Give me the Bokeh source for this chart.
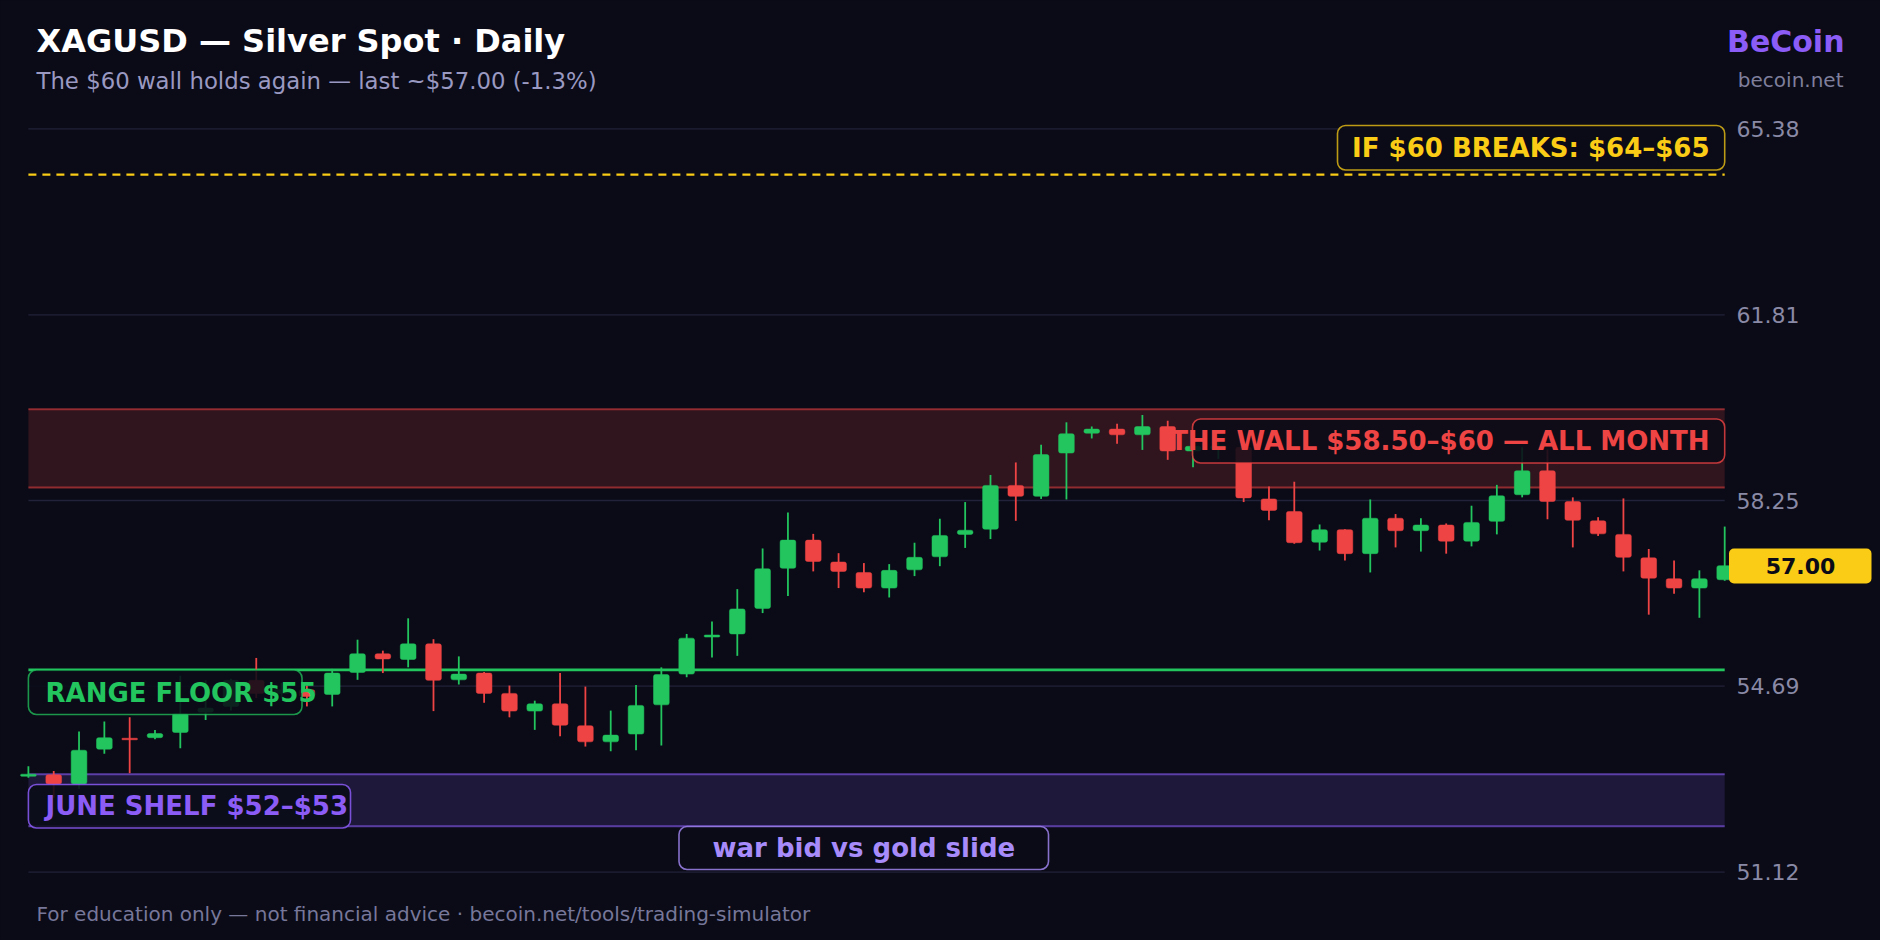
from bokeh.plotting import figure
from bokeh.models import Label, BoxAnnotation, Range1d, ColumnDataSource
from bokeh.embed import file_html
from bokeh.resources import INLINE
from bokeh.core.properties import value

# ---------------- data ----------------
opens  = [52.96, 52.99, 52.81, 53.48, 53.69, 53.70, 53.80, 54.19, 54.30, 54.80,
          54.55, 54.62, 54.53, 54.95, 55.31, 55.20, 55.50, 54.81, 54.94, 54.55,
          54.21, 54.35, 53.93, 53.62, 53.77, 54.33, 54.92, 55.63, 55.69, 56.18,
          56.95, 57.49, 57.07, 56.87, 56.57, 56.92, 57.17, 57.60, 57.70, 58.54,
          58.33, 59.16, 59.54, 59.62, 59.51, 59.67, 59.20, 59.24, 59.27, 58.28,
          58.04, 57.45, 57.69, 57.23, 57.91, 57.67, 57.78, 57.47, 57.85, 58.36,
          58.82, 58.23, 57.86, 57.60, 57.15, 56.75, 56.57, 56.73]
highs  = [53.15, 53.06, 53.82, 54.01, 54.09, 53.85, 54.89, 54.80, 54.83, 55.23,
          54.75, 54.70, 55.02, 55.58, 55.37, 55.99, 55.59, 55.26, 54.96, 54.70,
          54.41, 54.94, 54.68, 54.22, 54.71, 55.05, 55.69, 55.93, 56.55, 57.33,
          58.02, 57.61, 57.24, 57.05, 57.03, 57.44, 57.90, 58.22, 58.74, 58.98,
          59.32, 59.75, 59.67, 59.72, 59.89, 59.78, 59.40, 59.40, 59.35, 58.52,
          58.61, 57.79, 57.70, 58.27, 57.99, 57.91, 57.81, 58.15, 58.55, 59.27,
          59.23, 58.31, 57.93, 58.29, 57.32, 57.10, 56.91, 57.75]
lows   = [52.93, 52.55, 52.72, 53.39, 53.02, 53.67, 53.50, 54.04, 54.22, 54.46,
          54.45, 54.30, 54.30, 54.81, 54.94, 55.05, 54.21, 54.72, 54.37, 54.09,
          53.85, 53.73, 53.53, 53.44, 53.46, 53.55, 54.86, 55.24, 55.27, 56.09,
          56.42, 56.89, 56.57, 56.49, 56.39, 56.80, 56.99, 57.34, 57.51, 57.86,
          58.28, 58.27, 59.44, 59.34, 59.22, 59.03, 58.89, 59.05, 58.22, 57.87,
          57.42, 57.29, 57.10, 56.87, 57.35, 57.27, 57.23, 57.37, 57.60, 58.31,
          57.89, 57.35, 57.57, 56.89, 56.06, 56.46, 56.00, 56.71]
closes = [53.00, 52.81, 53.46, 53.70, 53.66, 53.78, 54.16, 54.27, 54.80, 54.55,
          54.62, 54.49, 54.94, 55.31, 55.21, 55.50, 54.80, 54.92, 54.55, 54.21,
          54.35, 53.94, 53.62, 53.75, 54.32, 54.91, 55.61, 55.67, 56.17, 56.94,
          57.49, 57.08, 56.89, 56.57, 56.91, 57.16, 57.58, 57.68, 58.54, 58.33,
          59.13, 59.53, 59.62, 59.51, 59.67, 59.20, 59.29, 59.30, 58.30, 58.06,
          57.44, 57.69, 57.23, 57.91, 57.67, 57.78, 57.47, 57.83, 58.34, 58.82,
          58.23, 57.87, 57.61, 57.16, 56.76, 56.57, 56.75, 57.00]

y_ticks = [51.12, 54.69, 58.25, 61.81, 65.38]
y_tick_labels = ["51.12", "54.69", "58.25", "61.81", "65.38"]
wall_zone = [58.50, 60.00]
shelf_zone = [52.00, 53.00]
range_floor = [55.00]
breakout_level = [64.50]
last_price = 57.00

title_text = "XAGUSD — Silver Spot · Daily"
subtitle_text = "The $60 wall holds again — last ~$57.00 (-1.3%)"
brand_text = "BeCoin"
brand_url = "becoin.net"
footer_text = "For education only — not financial advice · becoin.net/tools/trading-simulator"
breakout_label = "IF $60 BREAKS: $64–$65"
wall_label = "THE WALL $58.50–$60 — ALL MONTH"
floor_label = "RANGE FLOOR $55"
shelf_label = "JUNE SHELF $52–$53"
theme_label = "war bid vs gold slide"

# ---------------- style / layout ----------------
BG = "#0a0b17"
GREEN = "#22c55e"
RED = "#ef4444"
YELLOW = "#facc15"
PURPLE = "#8b5cf6"
LAVENDER = "#a78bfa"
GRID = "#22223a"
FONT = "DejaVu Sans"

W, H = 1880, 940
N = len(closes)
# pixel anchors of the price panel (first/last candle, top/bottom tick)
PX_FIRST, PX_LAST = 27.9, 1724.2
PY_TOP, PY_BOT = 128.3, 871.7
sx = (PX_LAST - PX_FIRST) / (N - 1)
sy = (PY_BOT - PY_TOP) / (y_ticks[-1] - y_ticks[0])
XR = (-PX_FIRST / sx, (N - 1) + (W - PX_LAST) / sx)
YR = (y_ticks[0] - (H - PY_BOT) / sy, y_ticks[-1] + PY_TOP / sy)


def dx(px):
    return XR[0] + px / W * (XR[1] - XR[0])


def dy(py):
    return YR[1] - py / H * (YR[1] - YR[0])


p = figure(width=W, height=H, x_range=Range1d(*XR), y_range=Range1d(*YR),
           output_backend="svg", toolbar_location=None,
           x_axis_location=None, y_axis_location=None,
           min_border=0, background_fill_color=BG, border_fill_color=BG)
p.outline_line_color = None
p.outline_line_alpha = 0
p.xgrid.visible = False
p.ygrid.visible = False

first, last = 0, N - 1

# grid lines across the candle span + price scale on the right
p.segment(x0=[first] * len(y_ticks), x1=[last] * len(y_ticks), y0=y_ticks, y1=y_ticks,
          line_color=GRID, line_width=1.3)
p.text(x=[dx(1736)] * len(y_ticks), y=y_ticks, text=y_tick_labels,
       text_font=value(FONT), text_font_size=value("22px"), text_color="#8a8aa6",
       text_baseline="middle", text_align="left")

# zones
p.add_layout(BoxAnnotation(left=first, right=last, bottom=wall_zone[0], top=wall_zone[1],
                           fill_color=RED, fill_alpha=0.17, line_alpha=0, level="underlay"))
p.segment(x0=[first] * 2, x1=[last] * 2, y0=wall_zone, y1=wall_zone,
          line_color=RED, line_alpha=0.55, line_width=2)
p.add_layout(BoxAnnotation(left=first, right=last, bottom=shelf_zone[0], top=shelf_zone[1],
                           fill_color=PURPLE, fill_alpha=0.16, line_alpha=0, level="underlay"))
p.segment(x0=[first] * 2, x1=[last] * 2, y0=shelf_zone, y1=shelf_zone,
          line_color=PURPLE, line_alpha=0.6, line_width=2)

p.segment(x0=[first], x1=[last], y0=range_floor, y1=range_floor,
          line_color=GREEN, line_width=2.8)
p.segment(x0=[first], x1=[last], y0=breakout_level, y1=breakout_level,
          line_color=YELLOW, line_width=2.2, line_dash="8 6")

# candles
idx = list(range(N))
colors = [GREEN if c >= o else RED for o, c in zip(opens, closes)]
src = ColumnDataSource(dict(
    x=idx, o=opens, h=highs, l=lows, c=closes,
    top=[max(o, c) for o, c in zip(opens, closes)],
    bot=[min(o, c) for o, c in zip(opens, closes)],
    color=colors))
p.segment(x0="x", x1="x", y0="l", y1="h", source=src, line_color="color", line_width=1.8)
p.vbar(x="x", width=0.62, top="top", bottom="bot", source=src,
       fill_color="color", line_color="color", line_width=0.5, border_radius=2)


# boxed labels
def boxed(left, right, top, bottom, color, line_alpha):
    p.add_layout(BoxAnnotation(left=left, right=right, top=top, bottom=bottom,
                               fill_color=BG, fill_alpha=0.88,
                               line_color=color, line_alpha=line_alpha, line_width=1.6,
                               border_radius=8))


def txt(x, y, text, color, size, align="left", style="bold", baseline="middle"):
    p.add_layout(Label(x=x, y=y, text=text, text_color=color, text_font=FONT,
                       text_font_size=size, text_font_style=style,
                       text_align=align, text_baseline=baseline))


boxed(dx(1337), last, dy(125), dy(169.5), YELLOW, 0.75)
txt(dx(1709), dy(147.5), breakout_label, YELLOW, "26px", align="right")

boxed(dx(1192), last, dy(418.5), dy(462.5), RED, 0.8)
txt(dx(1709), dy(440.5), wall_label, RED, "26px", align="right")

boxed(first, dx(301.5), dy(669.5), dy(714), GREEN, 0.75)
txt(dx(45), dy(692), floor_label, GREEN, "26px", align="left")

boxed(first, dx(350), dy(784), dy(827.5), PURPLE, 0.85)
txt(dx(45), dy(805.5), shelf_label, PURPLE, "26px", align="left")

boxed(dx(678.5), dx(1048), dy(826), dy(869), LAVENDER, 0.8)
txt(dx(863.3), dy(847.5), theme_label, LAVENDER, "26px", align="center")

# last price tag
p.add_layout(BoxAnnotation(left=dx(1728.5), right=dx(1871), top=dy(548), bottom=dy(583),
                           fill_color=YELLOW, fill_alpha=1.0, line_alpha=0, border_radius=5))
txt(dx(1800), last_price, "%.2f" % last_price, "#0a0b17", "22px", align="center")

# header / footer
txt(dx(36), dy(40.5), title_text, "#ffffff", "32px")
txt(dx(36), dy(80.5), subtitle_text, "#9a99c2", "22.8px", style="normal")
txt(dx(1844), dy(40.5), brand_text, PURPLE, "30px", align="right")
txt(dx(1843), dy(79.5), brand_url, "#7f7f9c", "20px", align="right", style="normal")
txt(dx(36), dy(913.5), footer_text, "#77779a", "20px", style="normal")

html = file_html(p, INLINE, title="XAGUSD — Silver Spot · Daily")
style = ("<style>html,body{margin:0;padding:0;background:#0a0b17;overflow:hidden;border:0}"
         "*{outline:none}</style>")
html = html.replace("</head>", style + "</head>", 1)
open("out.html", "w").write(html)
